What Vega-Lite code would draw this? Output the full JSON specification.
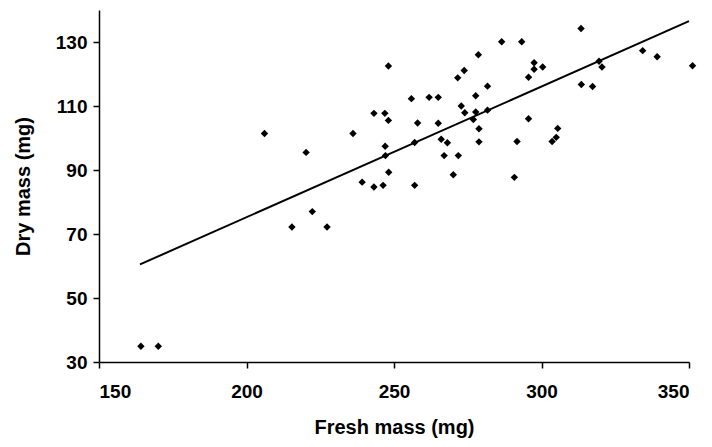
{
  "$schema": "https://vega.github.io/schema/vega-lite/v6.json",
  "autosize": {"type": "none"},
  "width": 590,
  "height": 352,
  "padding": {"left": 99, "top": 10, "right": 23, "bottom": 85},
  "background": "white",
  "config": {
    "view": {"stroke": null},
    "axis": {
      "grid": false,
      "domainColor": "black",
      "domainWidth": 1.5,
      "tickColor": "black",
      "tickWidth": 1.5,
      "tickSize": 6,
      "labelFont": "Liberation Sans",
      "labelFontWeight": "bold",
      "labelFontSize": 19,
      "labelColor": "black",
      "titleFont": "Liberation Sans",
      "titleFontWeight": "bold",
      "titleFontSize": 20,
      "titleColor": "black"
    }
  },
  "datasets": {
    "points": [
      {"fresh": 164.2, "dry": 34.9},
      {"fresh": 170.1, "dry": 34.9},
      {"fresh": 215.4, "dry": 72.2},
      {"fresh": 222.3, "dry": 77.0},
      {"fresh": 227.3, "dry": 72.2},
      {"fresh": 206.1, "dry": 101.4},
      {"fresh": 220.2, "dry": 95.5},
      {"fresh": 236.1, "dry": 101.4},
      {"fresh": 239.2, "dry": 86.2},
      {"fresh": 243.2, "dry": 84.7},
      {"fresh": 246.3, "dry": 85.2},
      {"fresh": 243.2, "dry": 107.7},
      {"fresh": 246.9, "dry": 107.7},
      {"fresh": 248.1, "dry": 122.5},
      {"fresh": 248.1, "dry": 105.5},
      {"fresh": 247.0, "dry": 97.4},
      {"fresh": 247.1, "dry": 94.5},
      {"fresh": 248.2, "dry": 89.3},
      {"fresh": 255.9, "dry": 112.3},
      {"fresh": 261.9, "dry": 112.7},
      {"fresh": 265.0, "dry": 112.7},
      {"fresh": 258.0, "dry": 104.7},
      {"fresh": 265.0, "dry": 104.6},
      {"fresh": 257.0, "dry": 98.6},
      {"fresh": 266.0, "dry": 99.6},
      {"fresh": 268.1, "dry": 98.5},
      {"fresh": 267.0, "dry": 94.5},
      {"fresh": 271.8, "dry": 94.5},
      {"fresh": 270.1, "dry": 88.5},
      {"fresh": 257.0, "dry": 85.2},
      {"fresh": 271.6, "dry": 118.8},
      {"fresh": 273.8, "dry": 121.1},
      {"fresh": 278.6, "dry": 126.0},
      {"fresh": 286.5, "dry": 130.1},
      {"fresh": 293.3, "dry": 130.1},
      {"fresh": 281.7, "dry": 116.2},
      {"fresh": 277.7, "dry": 113.2},
      {"fresh": 272.8, "dry": 110.0},
      {"fresh": 274.0, "dry": 107.9},
      {"fresh": 277.7, "dry": 108.1},
      {"fresh": 281.7, "dry": 108.7},
      {"fresh": 276.9, "dry": 105.8},
      {"fresh": 278.8, "dry": 102.9},
      {"fresh": 278.8, "dry": 98.8},
      {"fresh": 291.7, "dry": 98.9},
      {"fresh": 290.8, "dry": 87.7},
      {"fresh": 295.6, "dry": 119.0},
      {"fresh": 297.5, "dry": 123.5},
      {"fresh": 297.5, "dry": 121.5},
      {"fresh": 300.4, "dry": 122.2},
      {"fresh": 295.6, "dry": 106.0},
      {"fresh": 305.5, "dry": 103.0},
      {"fresh": 303.6, "dry": 98.9},
      {"fresh": 305.0, "dry": 100.2},
      {"fresh": 313.4, "dry": 134.2},
      {"fresh": 313.5, "dry": 116.7},
      {"fresh": 317.3, "dry": 116.1},
      {"fresh": 319.5, "dry": 124.0},
      {"fresh": 320.5, "dry": 122.2},
      {"fresh": 334.3, "dry": 127.3},
      {"fresh": 339.2, "dry": 125.4},
      {"fresh": 351.2, "dry": 122.6}
    ],
    "fit": [
      {"fresh": 163.9, "dry": 60.5},
      {"fresh": 350.0, "dry": 136.5}
    ]
  },
  "layer": [
    {
      "data": {"name": "fit"},
      "mark": {"type": "line", "color": "black", "strokeWidth": 2},
      "encoding": {
        "x": {"field": "fresh", "type": "quantitative"},
        "y": {"field": "dry", "type": "quantitative"}
      }
    },
    {
      "data": {"name": "points"},
      "mark": {"type": "point", "shape": "diamond", "filled": true, "color": "black", "opacity": 1, "size": 55},
      "encoding": {
        "x": {
          "field": "fresh", "type": "quantitative",
          "scale": {"domain": [150, 350], "nice": false, "zero": false},
          "axis": {"values": [150, 200, 250, 300, 350], "title": "Fresh mass (mg)", "labelPadding": 14, "titlePadding": 16}
        },
        "y": {
          "field": "dry", "type": "quantitative",
          "scale": {"domain": [30, 140], "nice": false, "zero": false},
          "axis": {"values": [30, 50, 70, 90, 110, 130], "title": "Dry mass (mg)", "labelPadding": 6, "titlePadding": 22}
        }
      }
    }
  ]
}
